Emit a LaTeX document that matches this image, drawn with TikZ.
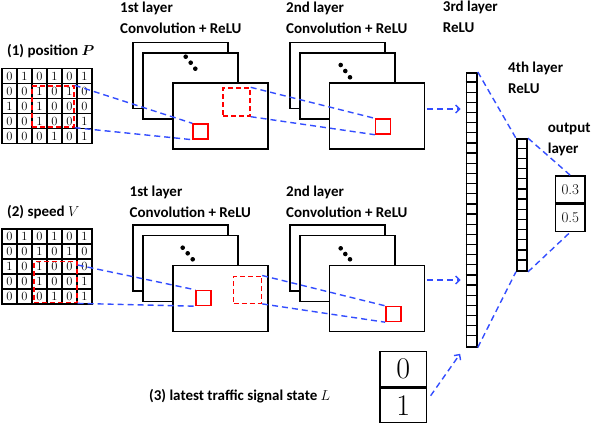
\documentclass[tikz,border=0pt]{standalone}
\usepackage{amsmath}
\usepackage{fontspec}
\newfontfamily\calfont{Carlito}
\usetikzlibrary{arrows.meta,positioning}
\definecolor{linkblue}{RGB}{51,77,255}

\tikzset{
	fmap/.style={draw, line width=1.5pt, fill=white, minimum width=95pt, minimum height=66pt, inner sep=0pt},
	kern/.style={draw=red, line width=1.4pt, minimum size=15pt, inner sep=0pt},
	rfield/.style={draw=red, line width=1.4pt, dash pattern=on 5pt off 3pt, inner sep=0pt},
	link/.style={draw=linkblue, line width=1.4pt, dash pattern=on 6pt off 4pt},
	feed/.style={link, -{Straight Barb[length=4pt,width=8pt]}},
	lbl/.style={font=\calfont\bfseries\fontsize{15}{21}\selectfont, align=left, inner sep=0pt},
	digit/.style={font=\fontsize{12.5}{12.5}\selectfont, inner sep=0pt},
	gline/.style={line width=1.7pt, line cap=rect},
	cell/.style={draw, line width=1.4pt, inner sep=0pt},
}

\begin{document}
\begin{tikzpicture}[x=1pt, y=-1pt]
	\useasboundingbox (0,0) rectangle (595,423);

	% input grids
	\foreach \i in {0,...,6} {
		\draw [gline] (2+15*\i,68.5) -- (2+15*\i,143.5);
		\draw [gline] (2+15*\i,229) -- (2+15*\i,304);
	}
	\foreach \j in {0,...,5} {
		\draw [gline] (2,68.5+15*\j) -- (92,68.5+15*\j);
		\draw [gline] (2,229+15*\j) -- (92,229+15*\j);
	}
	\foreach \row [count=\r] in {{0,1,0,1,0,1},{0,0,1,0,1,0},{1,0,1,0,0,0},{0,0,1,0,0,1},{0,0,0,1,0,1}} {
		\foreach \v [count=\c] in \row {
			\node [digit] (pos-\r-\c) at (15*\c-5.5, 61+15*\r) {\v};
			\node [digit] (spd-\r-\c) at (15*\c-5.5, 221.5+15*\r) {\v};
		}
	}
	\node [rfield, minimum width=42pt, minimum height=41pt] (rf-pos) at (53,106.5) {};
	\node [rfield, minimum width=43pt, minimum height=41pt] (rf-spd) at (55.5,282.2) {};

	\node [lbl, anchor=base west] (in-pos) at (7,55) {(1) position $\boldsymbol{P}$};
	\node [lbl, anchor=base west] (in-spd) at (7,216) {(2) speed $V$};
	\node [lbl, anchor=base west] (in-sig) at (149,400) {(3) latest traffic signal state $L$};

	% convolution layers, upper row
	\node [fmap] (m1a-b) at (180.5,75.5) {};
	\node [fmap] (m1a-m) at (190.5,86) {};
	\node [fmap] (m1a-f) at (220.5,116) {};
	\fill (185.7,56.7) circle (2.3pt) (190.7,62.7) circle (2.3pt) (195.3,68.7) circle (2.3pt);
	\node [kern] (k1a) at (200.5,131.5) {};
	\node [rfield, minimum width=27pt, minimum height=28pt] (rf1a) at (236.5,102) {};

	\node [fmap] (m2a-b) at (337.5,75.5) {};
	\node [fmap] (m2a-m) at (347.5,86) {};
	\node [fmap] (m2a-f) at (377,116) {};
	\fill (340.7,65) circle (2.3pt) (345.3,71) circle (2.3pt) (350,77.3) circle (2.3pt);
	\node [kern] (k2a) at (383,126.5) {};

	% convolution layers, lower row
	\node [fmap] (m1b-b) at (180.5,258) {};
	\node [fmap] (m1b-m) at (190.5,268.7) {};
	\node [fmap] (m1b-f) at (220.5,298.7) {};
	\fill (182.7,247.7) circle (2.3pt) (187.7,253.3) circle (2.3pt) (192.7,259.3) circle (2.3pt);
	\node [kern] (k1b) at (203.5,298) {};
	\node [rfield, minimum width=28pt, minimum height=27pt] (rf1b) at (247.5,289.7) {};

	\node [fmap] (m2b-b) at (337.5,258) {};
	\node [fmap] (m2b-m) at (347.5,268.7) {};
	\node [fmap] (m2b-f) at (377,298.7) {};
	\fill (340.7,248.3) circle (2.3pt) (345.3,254) circle (2.3pt) (350,259.3) circle (2.3pt);
	\node [kern] (k2b) at (393.3,314) {};

	\node [lbl, anchor=north west] (l1a-lbl) at (120,1.5) {1st layer\\Convolution + ReLU};
	\node [lbl, anchor=north west] (l2a-lbl) at (286,1.5) {2nd layer\\Convolution + ReLU};
	\node [lbl, anchor=north west] (l1b-lbl) at (129.5,186) {1st layer\\Convolution + ReLU};
	\node [lbl, anchor=north west] (l2b-lbl) at (286,186) {2nd layer\\Convolution + ReLU};

	% fully connected layers
	\node [cell, line width=1.6pt, minimum width=10.5pt, minimum height=274pt] (fc3) at (471.7,209.7) {};
	\foreach \k in {1,...,26}
		\draw [line width=1.3pt] (fc3.north west) ++(0,10.15*\k) -- ++(10.5,0);
	\node [cell, line width=1.6pt, minimum width=10.5pt, minimum height=132pt] (fc4) at (522,205) {};
	\foreach \k in {1,...,12}
		\draw [line width=1.3pt] (fc4.north west) ++(0,10.15*\k) -- ++(10.5,0);
	\node [cell, minimum width=29.3pt, minimum height=27pt, font=\fontsize{15}{15}\selectfont] (out-a) at (570.3,189.5) {0.3};
	\node [cell, minimum width=29.3pt, minimum height=27pt, font=\fontsize{15}{15}\selectfont, below=0pt of out-a] (out-b) {0.5};
	\node [cell, minimum width=46.7pt, minimum height=35pt, font=\fontsize{30}{30}\selectfont] (sig-a) at (403.3,369.2) {0};
	\node [cell, minimum width=46.7pt, minimum height=35pt, font=\fontsize{30}{30}\selectfont, below=0pt of sig-a] (sig-b) {1};

	\node [lbl, anchor=north west] (l3-lbl) at (442.7,1) {3rd layer\\ReLU};
	\node [lbl, anchor=north west] (l4-lbl) at (508,61.5) {4th layer\\ReLU};
	\node [lbl, anchor=north west] (out-lbl) at (547.7,123) {output\\layer};

	% connections
	\draw [link] (rf-pos.north east) -- (k1a.north west);
	\draw [link] (rf-pos.south east) -- (k1a.south west);
	\draw [link] (rf1a.north east) -- (k2a.north west);
	\draw [link] (rf1a.south east) -- (k2a.south west);
	\draw [link] ([yshift=-4pt]rf-spd.north east) -- (k1b.north west);
	\draw [link] (rf-spd.south east) -- (k1b.south west);
	\draw [link] (rf1b.north east) -- (k2b.north west);
	\draw [link] (rf1b.south east) -- (k2b.south west);

	\coordinate (t3a) at (fc3.west |- m2a-f.east);
	\coordinate (t3b) at (fc3.west |- m2b-f.east);
	\draw [feed] ([shift={(2pt,7pt)}]m2a-f.east) -- ([shift={(-5pt,7pt)}]t3a);
	\draw [feed] ([shift={(2pt,18.7pt)}]m2b-f.east) -- ([shift={(-5pt,18.7pt)}]t3b);
	\draw [feed] ([shift={(3.3pt,-8.3pt)}]sig-b.north east) -- ([shift={(-5.5pt,-6.3pt)}]fc3.south west);

	\draw [link] (fc3.north east) -- (fc4.north west);
	\draw [link] (fc4.north east) -- (out-a.north);
	\draw [link] (fc3.south east) -- (fc4.south west);
	\draw [link] (fc4.south east) -- (out-b.south);
\end{tikzpicture}
\end{document}
